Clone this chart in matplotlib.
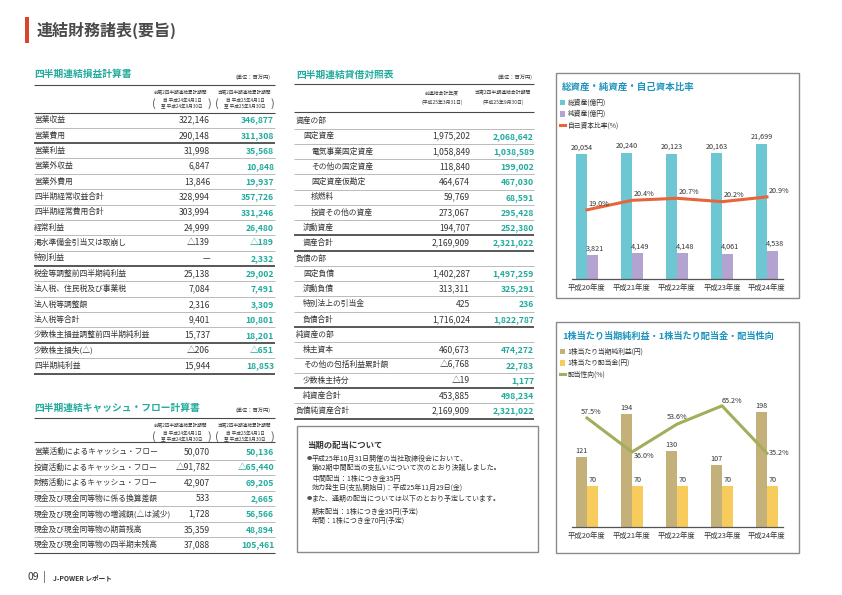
import matplotlib
matplotlib.use('Agg')
import matplotlib.pyplot as plt
from matplotlib.patches import Rectangle
import numpy as np

plt.rcParams['font.family'] = ['Noto Sans CJK JP', 'DejaVu Sans']

W, H = 842, 595

# ---------------- data ----------------
years = ['平成20年度', '平成21年度', '平成22年度', '平成23年度', '平成24年度']
total_assets = [20054, 20240, 20123, 20163, 21699]
net_assets = [3821, 4149, 4148, 4061, 4538]
equity_ratio = [19.0, 20.4, 20.7, 20.2, 20.9]
eps = [121, 194, 130, 107, 198]
dps = [70, 70, 70, 70, 70]
payout = [57.5, 36.0, 53.6, 65.2, 35.2]

pl_items = ['営業収益', '営業費用', '営業利益', '営業外収益', '営業外費用', '四半期経常収益合計',
            '四半期経常費用合計', '経常利益', '渇水準備金引当又は取崩し', '特別利益',
            '税金等調整前四半期純利益', '法人税、住民税及び事業税', '法人税等調整額', '法人税等合計',
            '少数株主損益調整前四半期純利益', '少数株主損失(△)', '四半期純利益']
pl_prev = ['322,146', '290,148', '31,998', '6,847', '13,846', '328,994', '303,994', '24,999',
           '△139', '—', '25,138', '7,084', '2,316', '9,401', '15,737', '△206', '15,944']
pl_curr = ['346,877', '311,308', '35,568', '10,848', '19,937', '357,726', '331,246', '26,480',
           '△189', '2,332', '29,002', '7,491', '3,309', '10,801', '18,201', '△651', '18,853']

cf_items = ['営業活動によるキャッシュ・フロー', '投資活動によるキャッシュ・フロー',
            '財務活動によるキャッシュ・フロー', '現金及び現金同等物に係る換算差額',
            '現金及び現金同等物の増減額(△は減少)', '現金及び現金同等物の期首残高',
            '現金及び現金同等物の四半期末残高']
cf_prev = ['50,070', '△91,782', '42,907', '533', '1,728', '35,359', '37,088']
cf_curr = ['50,136', '△65,440', '69,205', '2,665', '56,566', '48,894', '105,461']

bs_items = ['資産の部', '固定資産', '電気事業固定資産', 'その他の固定資産', '固定資産仮勘定', '核燃料',
            '投資その他の資産', '流動資産', '資産合計', '負債の部', '固定負債', '流動負債',
            '特別法上の引当金', '負債合計', '純資産の部', '株主資本', 'その他の包括利益累計額',
            '少数株主持分', '純資産合計', '負債純資産合計']
bs_level = [0, 1, 2, 2, 2, 2, 2, 1, 1, 0, 1, 1, 1, 1, 0, 1, 1, 1, 1, 0]
bs_prev = ['', '1,975,202', '1,058,849', '118,840', '464,674', '59,769', '273,067', '194,707',
           '2,169,909', '', '1,402,287', '313,311', '425', '1,716,024', '', '460,673', '△6,768',
           '△19', '453,885', '2,169,909']
bs_curr = ['', '2,068,642', '1,038,589', '199,002', '467,030', '68,591', '295,428', '252,380',
           '2,321,022', '', '1,497,259', '325,291', '236', '1,822,787', '', '474,272', '22,783',
           '1,177', '498,234', '2,321,022']

dividend_lines = [
    ('●', '平成25年10月31日開催の当社取締役会において、'),
    ('', '第62期中間配当の支払いについて次のとおり決議しました。'),
    ('', '中間配当：1株につき金35円'),
    ('', '効力発生日(支払開始日)：平成25年11月29日(金)'),
    ('●', 'また、通期の配当については以下のとおり予定しています。'),
    ('', '期末配当：1株につき金35円(予定)'),
    ('', '年間：1株につき金70円(予定)'),
]

# ---------------- styles ----------------
DARK = '#353535'
TEAL = '#22ab9c'
CTITLE = '#1b93bd'
THIN = '#a0a0a0'
THICK = '#4a4a4a'

fig = plt.figure(figsize=(W / 100, H / 100), dpi=100)
fig.patch.set_facecolor('white')
page = fig.add_axes([0, 0, 1, 1])
page.set_xlim(0, W)
page.set_ylim(H, 0)
page.axis('off')


def T(x, y, s, size=5.8, color=DARK, ha='left', weight='normal', va='center'):
    page.text(x, y, s, fontsize=size, color=color, ha=ha, va=va, fontweight=weight)


def HL(x0, x1, y, lw=0.5, color=THIN):
    page.plot([x0, x1], [y, y], color=color, lw=lw, solid_capstyle='butt')


def header_period(xc, y, first, a, b):
    T(xc, y, first, size=3.3, ha='center')
    T(xc + 1, y + 8, a, size=3.3, ha='center')
    T(xc + 1, y + 15, b, size=3.3, ha='center')
    T(xc - 27, y + 11.5, '(', size=8, ha='center', color='#555')
    T(xc + 28, y + 11.5, ')', size=8, ha='center', color='#555')


# ---------------- page header/footer ----------------
page.add_patch(Rectangle((25, 17), 3.6, 26, color='#d9452b', lw=0))
T(37, 30, '連結財務諸表(要旨)', size=11.5, color='#4a4a4a', weight='bold')
T(28, 577, '09', size=7.5, color='#333')
T(43, 577, '|', size=7, color='#333')
T(53, 578, 'J-POWER レポート', size=4.8, color='#333', weight='bold')

# ---------------- P/L table ----------------
x0, x1 = 34, 275
T(34, 74, '四半期連結損益計算書', size=7, color=TEAL, weight='bold')
T(271, 77, '(単位：百万円)', size=3.8, ha='right')
HL(x0, x1, 85, lw=0.8, color=THICK)
header_period(181, 92, '前第2四半期連結累計期間', '自 平成24年4月1日', '至 平成24年9月30日')
header_period(244, 92, '当第2四半期連結累計期間', '自 平成25年4月1日', '至 平成25年9月30日')
HL(x0, x1, 113, lw=0.8, color=THICK)
dy = 15.37
pl_thick = {1, 9, 14, 16}
for i, (lab, a, b) in enumerate(zip(pl_items, pl_prev, pl_curr)):
    y = 120 + i * dy
    T(34, y, lab, size=5.6)
    T(210, y, a, size=6.2, ha='right')
    T(274, y, b, size=6.2, ha='right', color=TEAL, weight='bold')
    yl = y + dy / 2
    if i in pl_thick:
        HL(x0, x1, yl, lw=1.3, color=THICK)
    else:
        HL(x0, x1, yl, lw=0.5)

# ---------------- CF table ----------------
T(34, 408, '四半期連結キャッシュ・フロー計算書', size=7, color=TEAL, weight='bold')
T(271, 410, '(単位：百万円)', size=3.8, ha='right')
HL(x0, x1, 418, lw=0.8, color=THICK)
header_period(181, 425, '前第2四半期連結累計期間', '自 平成24年4月1日', '至 平成24年9月30日')
header_period(244, 425, '当第2四半期連結累計期間', '自 平成25年4月1日', '至 平成25年9月30日')
HL(x0, x1, 442, lw=0.8, color=THICK)
dy = 15.5
for i, (lab, a, b) in enumerate(zip(cf_items, cf_prev, cf_curr)):
    y = 452 + i * dy
    T(34, y, lab, size=5.6)
    T(210, y, a, size=6.2, ha='right')
    T(274, y, b, size=6.2, ha='right', color=TEAL, weight='bold')
    yl = y + dy / 2
    HL(x0, x1, yl, lw=0.5 if i < len(cf_items) - 1 else 0.8,
       color=THIN if i < len(cf_items) - 1 else THICK)

# ---------------- B/S table ----------------
bx0, bx1 = 294, 534
T(296, 75, '四半期連結貸借対照表', size=7, color=TEAL, weight='bold')
T(532, 77, '(単位：百万円)', size=3.8, ha='right')
HL(bx0, bx1, 84, lw=0.8, color=THICK)
T(442, 93, '前連結会計年度', size=3.5, ha='center')
T(442, 102, '(平成25年3月31日)', size=3.5, ha='center')
T(503, 93, '当第2四半期連結会計期間', size=3.5, ha='center')
T(503, 102, '(平成25年9月30日)', size=3.5, ha='center')
HL(bx0, bx1, 112, lw=0.8, color=THICK)
dy = 15.26
indent = [296, 303, 311]
bs_thick = {7, 8, 13, 17, 19}
for i, (lab, lv, a, b) in enumerate(zip(bs_items, bs_level, bs_prev, bs_curr)):
    y = 121 + i * dy
    T(indent[lv], y, lab, size=5.6)
    if a:
        T(470, y, a, size=6.2, ha='right')
        T(534, y, b, size=6.2, ha='right', color=TEAL, weight='bold')
    yl = y + dy / 2
    if i in bs_thick:
        HL(bx0, bx1, yl, lw=1.3, color=THICK)
    else:
        HL(bx0, bx1, yl, lw=0.5)

# ---------------- dividend box ----------------
page.add_patch(Rectangle((297, 426), 241, 126, fill=False, ec='#8a8a8a', lw=1))
T(307, 445, '当期の配当について', size=6.0, color='#333', weight='bold')
div_y = [459, 467.5, 479, 488, 499, 512, 521]
for (bul, txt), y in zip(dividend_lines, div_y):
    if bul:
        T(307, y, bul, size=3.8, color='#555')
    T(312, y, txt, size=5.0, color='#333')

# ---------------- chart frames ----------------
page.add_patch(Rectangle((556, 73), 243, 225, fill=False, ec='#8a8a8a', lw=1))
page.add_patch(Rectangle((556, 322), 243, 231, fill=False, ec='#8a8a8a', lw=1))
T(562, 87, '総資産・純資産・自己資本比率', size=6.8, color=CTITLE, weight='bold')
T(562, 336, '1株当たり当期純利益・1株当たり配当金・配当性向', size=6.6, color=CTITLE, weight='bold')


def chart_axes(top, bottom):
    return fig.add_axes([572 / W, (H - bottom) / H, (783 - 572) / W, (bottom - top) / H])


def style(ax, twin):
    for s in ['top', 'right', 'left']:
        ax.spines[s].set_visible(False)
        twin.spines[s].set_visible(False)
    twin.spines['bottom'].set_visible(False)
    ax.spines['bottom'].set_color('#555')
    ax.spines['bottom'].set_linewidth(0.9)
    ax.set_yticks([])
    twin.set_yticks([])
    ax.tick_params(axis='x', length=0, pad=3.5, labelsize=5.3, labelcolor='#333')
    ax.patch.set_alpha(0)
    twin.patch.set_alpha(0)


x = np.arange(len(years))
bw = 0.235

# chart 1
ax1 = chart_axes(139, 279)
ax1t = ax1.twinx()
b1 = ax1.bar(x - bw / 2, total_assets, bw, color='#6cc7d3', label='総資産(億円)')
b2 = ax1.bar(x + bw / 2, net_assets, bw, color='#b2a3d1', label='純資産(億円)')
l1, = ax1t.plot(x, equity_ratio, color='#e8643a', lw=2.2, label='自己資本比率(%)')
ax1.set_xlim(-0.333, 4.356)
ax1.set_ylim(0, 22460)
ax1t.set_ylim(8.85, 29.4)
ax1.set_xticks(x, years)
style(ax1, ax1t)
for xi, v in zip(x, total_assets):
    ax1.annotate(f'{v:,}', (xi - bw / 2, v), xytext=(0, 2), textcoords='offset points',
                 ha='center', va='bottom', fontsize=5.2, color='#333')
for xi, v in zip(x, net_assets):
    ax1.annotate(f'{v:,}', (xi + bw / 2, v), xytext=(2, 2), textcoords='offset points',
                 ha='center', va='bottom', fontsize=5.2, color='#333')
for xi, v in zip(x, equity_ratio):
    ax1t.annotate(f'{v:.1f}%', (xi, v), xytext=(8.5, 4.5), textcoords='offset points',
                  ha='center', va='center', fontsize=5.2, color='#333')
ax1.legend([b1, b2, l1], ['総資産(億円)', '純資産(億円)', '自己資本比率(%)'],
           loc='upper left', bbox_to_anchor=(560 / W, (H - 99) / H), bbox_transform=fig.transFigure,
           frameon=False, fontsize=4.9, handlelength=0.8, handleheight=0.9, handletextpad=0.3,
           labelspacing=0.45, borderpad=0, borderaxespad=0, labelcolor='#333')

# chart 2
ax2 = chart_axes(387, 527)
ax2t = ax2.twinx()
c1 = ax2.bar(x - bw / 2, eps, bw, color='#c4b17a', label='1株当たり当期純利益(円)')
c2 = ax2.bar(x + bw / 2, dps, bw, color='#f8cc5c', label='1株当たり配当金(円)')
l2, = ax2t.plot(x, payout, color='#a4ad5b', lw=2.2, label='配当性向(%)')
ax2.set_xlim(-0.333, 4.356)
ax2.set_ylim(0, 241)
ax2t.set_ylim(-11.4, 77.1)
ax2.set_xticks(x, years)
style(ax2, ax2t)
for xi, v in zip(x, eps):
    ax2.annotate(f'{v}', (xi - bw / 2, v), xytext=(0, 1.5), textcoords='offset points',
                 ha='center', va='bottom', fontsize=5.2, color='#333')
for xi, v in zip(x, dps):
    ax2.annotate(f'{v}', (xi + bw / 2, v), xytext=(0, 1.5), textcoords='offset points',
                 ha='center', va='bottom', fontsize=5.2, color='#333')
pay_off = [(3, 4), (8.5, -3), (0, 5), (7.5, 3.5), (9, 0.5)]
for xi, v, off in zip(x, payout, pay_off):
    ax2t.annotate(f'{v:.1f}%', (xi, v), xytext=off, textcoords='offset points',
                  ha='center', va='center', fontsize=5.2, color='#333')
ax2.legend([c1, c2, l2], ['1株当たり当期純利益(円)', '1株当たり配当金(円)', '配当性向(%)'],
           loc='upper left', bbox_to_anchor=(560 / W, (H - 348) / H), bbox_transform=fig.transFigure,
           frameon=False, fontsize=4.9, handlelength=0.8, handleheight=0.9, handletextpad=0.3,
           labelspacing=0.45, borderpad=0, borderaxespad=0, labelcolor='#333')

fig.savefig('out.png', dpi=100, facecolor='white')
